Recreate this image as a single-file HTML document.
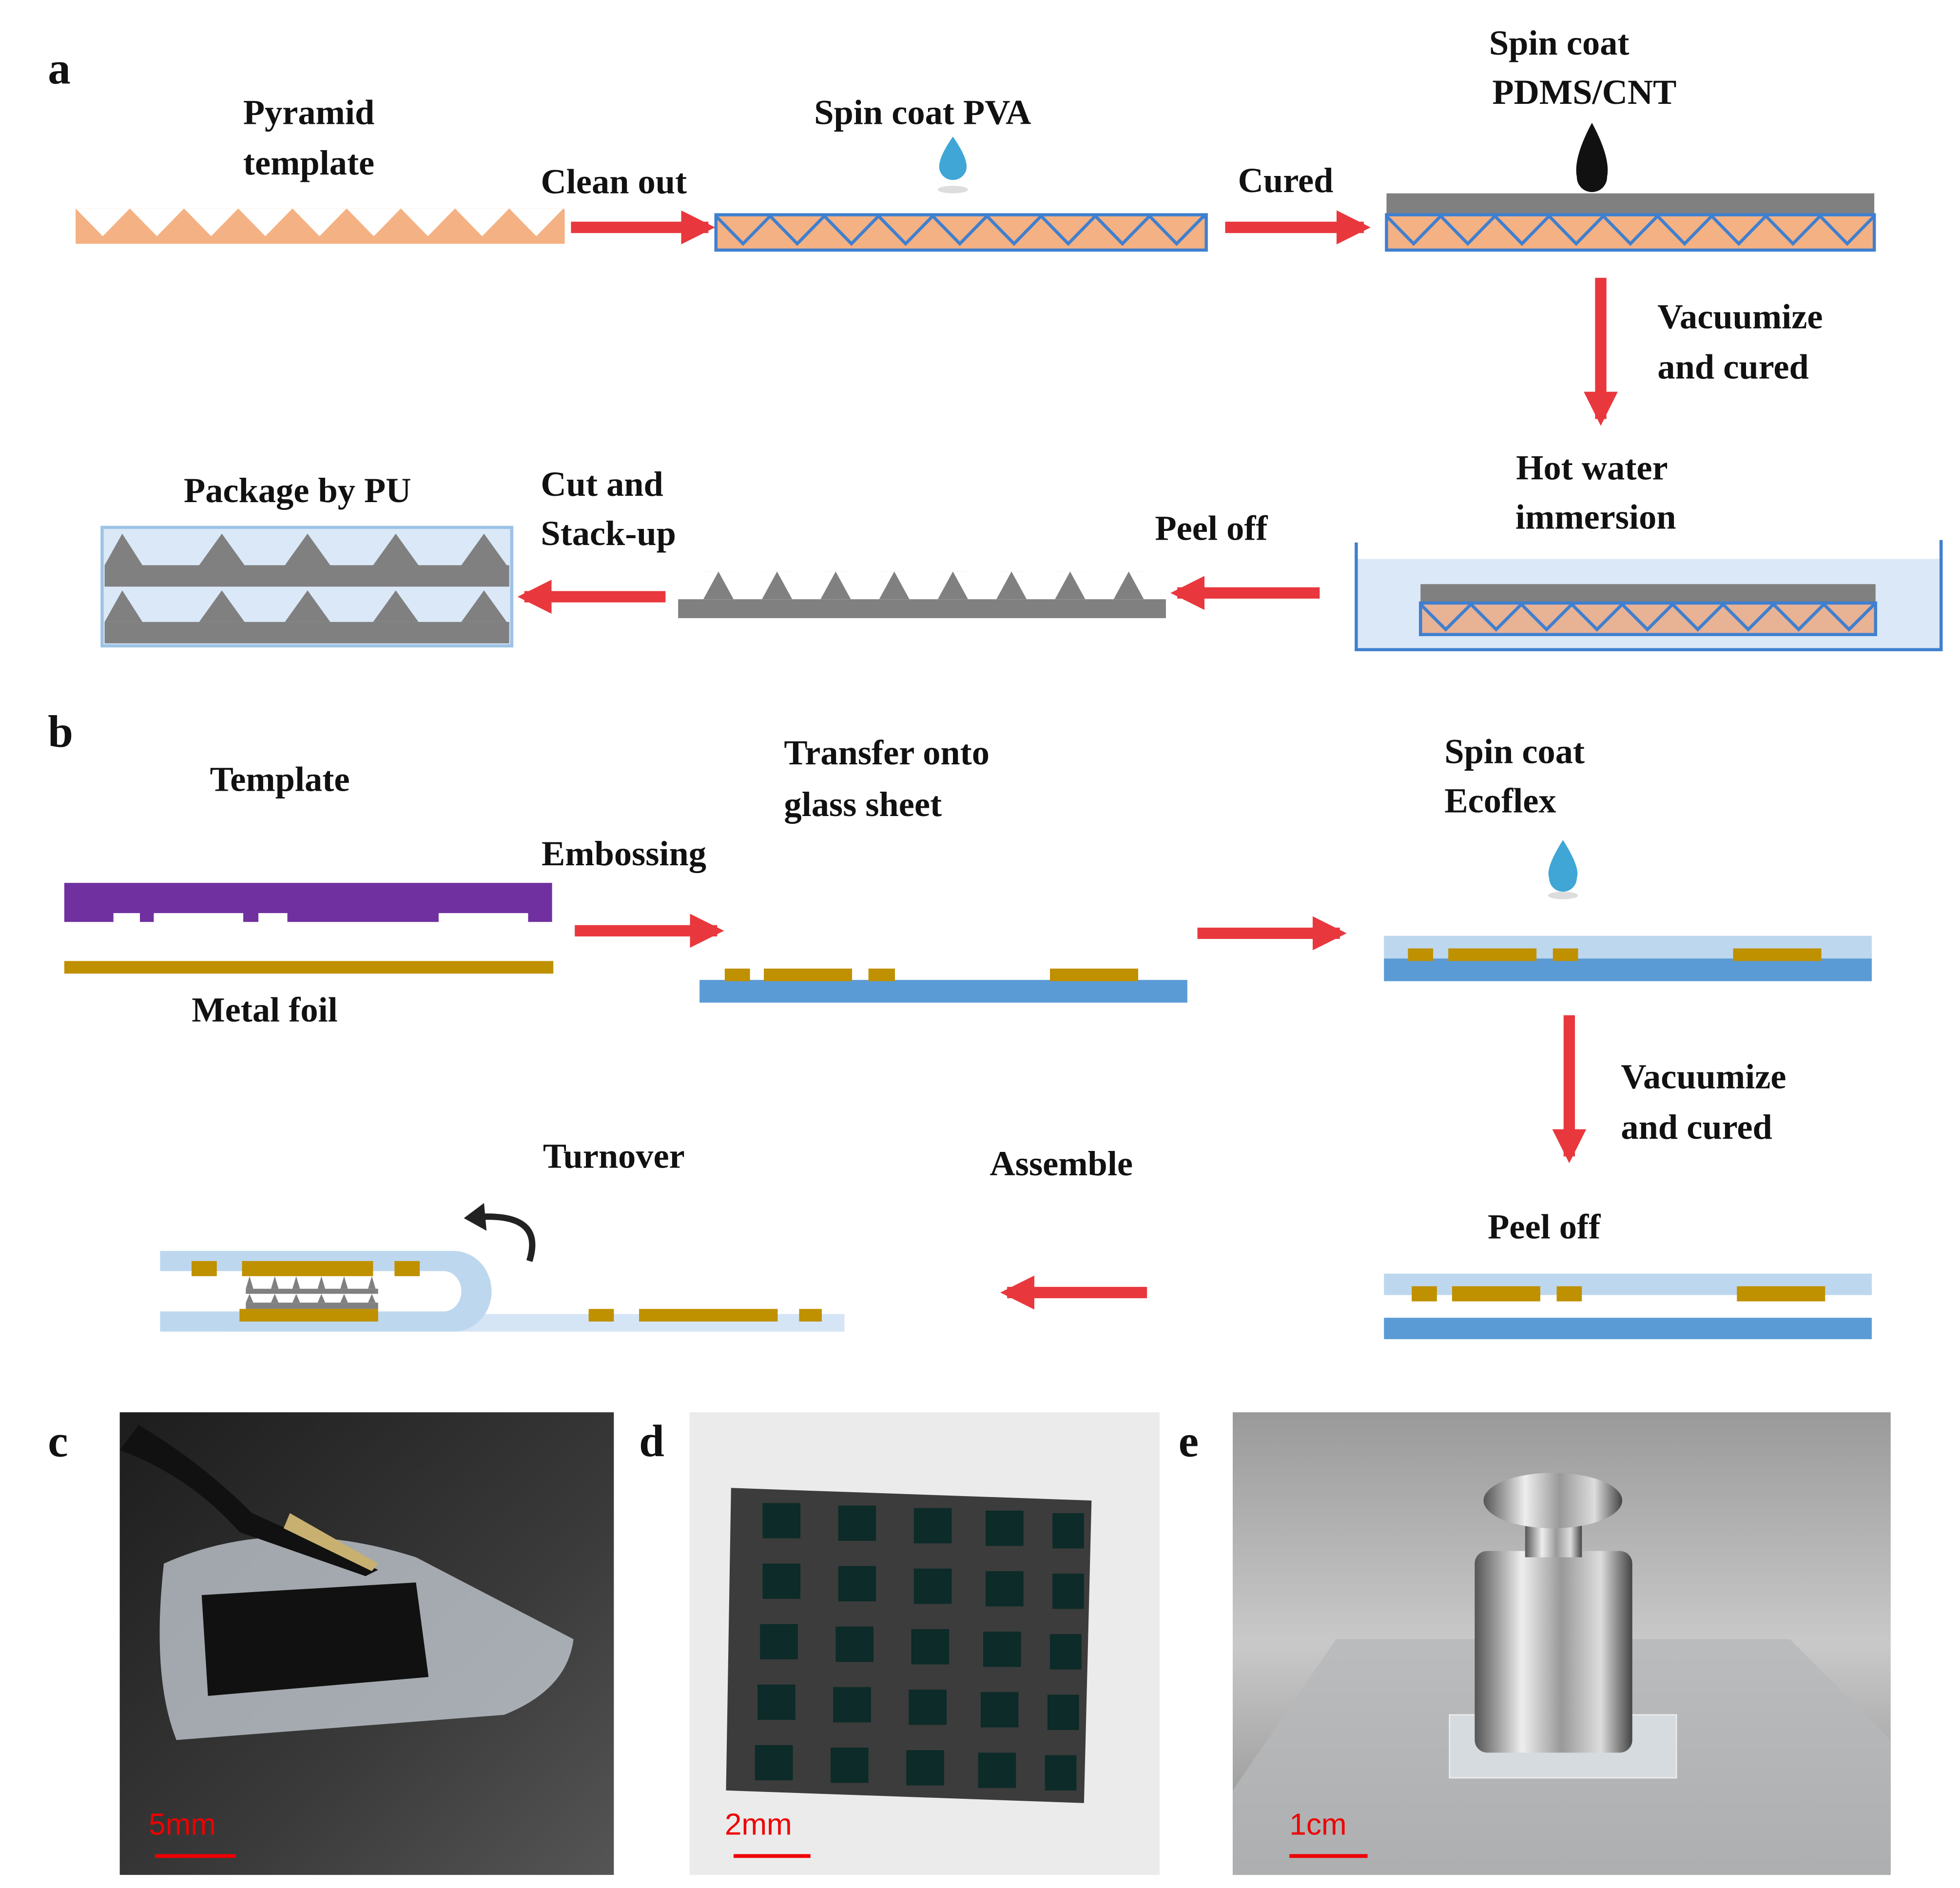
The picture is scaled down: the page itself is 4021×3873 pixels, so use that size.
<!DOCTYPE html>
<html><head><meta charset="utf-8"><style>
html,body{margin:0;padding:0;background:#fff}
svg{display:block}
text{font-family:"Liberation Serif",serif;font-weight:bold;font-size:28px;fill:#111}
.lab{font-size:36px}
.sb{font-family:"Liberation Sans",sans-serif;font-weight:normal;fill:#e00;font-size:24px}
</style></head><body>
<svg width="4021" height="3873" viewBox="0 0 1555 1497" xmlns="http://www.w3.org/2000/svg">
<defs>
<marker id="ah" viewBox="0 0 10 10" refX="8" refY="5" markerWidth="3" markerHeight="3" orient="auto"><path d="M0,0L10,5L0,10z" fill="#e8383d"/></marker>
<pattern id="notch" x="60" y="165" width="43" height="28" patternUnits="userSpaceOnUse"><polygon points="0,0 43,0 21.5,22" fill="#fff"/></pattern>
<pattern id="zz1" x="568" y="170" width="43" height="28" patternUnits="userSpaceOnUse"><polyline points="0,1 21.5,23 43,1" fill="none" stroke="#3f7fcf" stroke-width="2.5"/></pattern>
<pattern id="zz2" x="1100" y="170" width="43" height="28" patternUnits="userSpaceOnUse"><polyline points="0,1 21.5,23 43,1" fill="none" stroke="#3f7fcf" stroke-width="2.5"/></pattern>
<pattern id="zz3" x="1127" y="478" width="40" height="25" patternUnits="userSpaceOnUse"><polyline points="0,1 20,21 40,1" fill="none" stroke="#3f7fcf" stroke-width="2.5"/></pattern>
<pattern id="tri1" x="548" y="453" width="46.5" height="22" patternUnits="userSpaceOnUse"><polygon points="10,22 22,0 34,22" fill="#808080"/></pattern>
<linearGradient id="gc" x1="0" y1="0" x2="1" y2="1"><stop offset="0" stop-color="#1d1d1d"/><stop offset="0.6" stop-color="#3a3a3a"/><stop offset="1" stop-color="#555"/></linearGradient>
<linearGradient id="ge" x1="0" y1="0" x2="0" y2="1"><stop offset="0" stop-color="#9a9a9a"/><stop offset="0.5" stop-color="#c9c9c9"/><stop offset="1" stop-color="#8a8a8a"/></linearGradient>
<linearGradient id="gw" x1="0" y1="0" x2="1" y2="0"><stop offset="0" stop-color="#555"/><stop offset="0.3" stop-color="#eee"/><stop offset="0.55" stop-color="#999"/><stop offset="0.8" stop-color="#ddd"/><stop offset="1" stop-color="#444"/></linearGradient>
</defs>

<text class="lab" x="38" y="66">a</text>
<text x="245" y="98" text-anchor="middle">Pyramid</text>
<text x="245" y="138" text-anchor="middle">template</text>
<rect x="60" y="165" width="388" height="28" fill="#f4b183"/>
<rect x="60" y="165" width="388" height="28" fill="url(#notch)"/>
<line x1="453" y1="180" x2="562" y2="180" stroke="#e8383d" stroke-width="9" marker-end="url(#ah)"/>
<text x="487" y="153" text-anchor="middle">Clean out</text>

<text x="732" y="98" text-anchor="middle">Spin coat PVA</text>
<path d="M756,108 Q742,128 746,136 A11,11 0 0 0 766,136 Q770,128 756,108z" fill="#3fa6d6"/>
<ellipse cx="756" cy="150" rx="12" ry="3" fill="#ddd"/>
<rect x="568" y="170" width="389" height="28" fill="#f4b183" stroke="#3f7fcf" stroke-width="2.5"/>
<rect x="568" y="170" width="389" height="28" fill="url(#zz1)"/>
<line x1="972" y1="180" x2="1082" y2="180" stroke="#e8383d" stroke-width="9" marker-end="url(#ah)"/>
<text x="1020" y="152" text-anchor="middle">Cured</text>

<text x="1237" y="43" text-anchor="middle">Spin coat</text>
<text x="1257" y="82" text-anchor="middle">PDMS/CNT</text>
<path d="M1263,97 Q1248,125 1251,140 A12,12 0 0 0 1275,140 Q1278,125 1263,97z" fill="#111"/>
<rect x="1100" y="153" width="387" height="17" fill="#808080"/>
<rect x="1100" y="170" width="387" height="28" fill="#f4b183" stroke="#3f7fcf" stroke-width="2.5"/>
<rect x="1100" y="170" width="387" height="28" fill="url(#zz2)"/>
<line x1="1270" y1="220" x2="1270" y2="332" stroke="#e8383d" stroke-width="9" marker-end="url(#ah)"/>
<text x="1315" y="260">Vacuumize</text>
<text x="1315" y="300">and cured</text>

<text x="1263" y="380" text-anchor="middle">Hot water</text>
<text x="1266" y="419" text-anchor="middle">immersion</text>
<rect x="1076" y="443" width="464" height="72" fill="#dae8f7"/>
<polyline points="1076,430 1076,515 1540,515 1540,428" fill="none" stroke="#3f7fcf" stroke-width="2.5"/>
<rect x="1127" y="463" width="361" height="15" fill="#808080"/>
<rect x="1127" y="478" width="361" height="25" fill="#e8b295" stroke="#3f7fcf" stroke-width="2.5"/>
<rect x="1127" y="478" width="361" height="25" fill="url(#zz3)"/>
<line x1="1047" y1="470" x2="934" y2="470" stroke="#e8383d" stroke-width="9" marker-end="url(#ah)"/>
<text x="961" y="428" text-anchor="middle">Peel off</text>

<rect x="538" y="475" width="387" height="15" fill="#808080"/>
<rect x="548" y="453" width="372" height="22" fill="url(#tri1)"/>
<line x1="528" y1="473" x2="416" y2="473" stroke="#e8383d" stroke-width="9" marker-end="url(#ah)"/>
<text x="429" y="393">Cut and</text>
<text x="429" y="432">Stack-up</text>

<text x="236" y="398" text-anchor="middle">Package by PU</text>
<rect x="81" y="418" width="325" height="94" fill="#dae8f7" stroke="#9dc3e6" stroke-width="2.5"/>
<rect x="83" y="448" width="321" height="17" fill="#808080"/>
<rect x="83" y="493" width="321" height="17" fill="#808080"/>
<g fill="#808080">
<polygon points="83,448 97,423 113,448"/><polygon points="158,448 176,423 194,448"/><polygon points="226,448 244,423 262,448"/><polygon points="296,448 314,423 332,448"/><polygon points="366,448 384,423 402,448"/>
<polygon points="83,493 97,468 113,493"/><polygon points="158,493 176,468 194,493"/><polygon points="226,493 244,468 262,493"/><polygon points="296,493 314,468 332,493"/><polygon points="366,493 384,468 402,493"/>
</g>

<text class="lab" x="38" y="592">b</text>
<text x="222" y="627" text-anchor="middle">Template</text>
<path d="M51,700H438V731H419V724H348V731H228V724H205V731H193V724H122V731H111V724H90V731H51z" fill="#7030a0"/>
<rect x="51" y="762" width="388" height="10" fill="#bf9000"/>
<text x="210" y="810" text-anchor="middle">Metal foil</text>
<line x1="456" y1="738" x2="569" y2="738" stroke="#e8383d" stroke-width="9" marker-end="url(#ah)"/>
<text x="495" y="686" text-anchor="middle">Embossing</text>

<text x="622" y="606">Transfer onto</text>
<text x="622" y="647">glass sheet</text>
<rect x="555" y="777" width="387" height="18" fill="#5b9bd5"/>
<g fill="#bf9000"><rect x="575" y="768" width="20" height="10"/><rect x="606" y="768" width="70" height="10"/><rect x="689" y="768" width="21" height="10"/><rect x="833" y="768" width="70" height="10"/></g>
<line x1="950" y1="740" x2="1063" y2="740" stroke="#e8383d" stroke-width="9" marker-end="url(#ah)"/>

<text x="1146" y="605">Spin coat</text>
<text x="1146" y="644">Ecoflex</text>
<path d="M1240,666 Q1226,688 1229,696 A11,11 0 0 0 1251,696 Q1254,688 1240,666z" fill="#3fa6d6"/>
<ellipse cx="1240" cy="710" rx="12" ry="3" fill="#ddd"/>
<rect x="1098" y="742" width="387" height="18" fill="#bdd7ee"/>
<rect x="1098" y="760" width="387" height="18" fill="#5b9bd5"/>
<g fill="#bf9000"><rect x="1117" y="752" width="20" height="10"/><rect x="1149" y="752" width="70" height="10"/><rect x="1232" y="752" width="20" height="10"/><rect x="1375" y="752" width="70" height="10"/></g>
<line x1="1245" y1="805" x2="1245" y2="917" stroke="#e8383d" stroke-width="9" marker-end="url(#ah)"/>
<text x="1286" y="863">Vacuumize</text>
<text x="1286" y="903">and cured</text>

<text x="1225" y="982" text-anchor="middle">Peel off</text>
<rect x="1098" y="1010" width="387" height="17" fill="#bdd7ee"/>
<g fill="#bf9000"><rect x="1120" y="1020" width="20" height="12"/><rect x="1152" y="1020" width="70" height="12"/><rect x="1235" y="1020" width="20" height="12"/><rect x="1378" y="1020" width="70" height="12"/></g>
<rect x="1098" y="1045" width="387" height="17" fill="#5b9bd5"/>
<line x1="910" y1="1025" x2="799" y2="1025" stroke="#e8383d" stroke-width="9" marker-end="url(#ah)"/>
<text x="842" y="932" text-anchor="middle">Assemble</text>
<text x="487" y="926" text-anchor="middle">Turnover</text>

<rect x="180" y="1042" width="490" height="14" fill="#d6e5f5"/>
<path d="M127,992H360A30,32 0 0 1 360,1056H127V1040H352A14,16 0 0 0 352,1008H127z" fill="#bdd7ee"/>
<g fill="#bf9000"><rect x="152" y="1000" width="20" height="12"/><rect x="192" y="1000" width="104" height="12"/><rect x="313" y="1000" width="20" height="12"/><rect x="190" y="1038" width="110" height="10"/>
<rect x="467" y="1038" width="20" height="10"/><rect x="507" y="1038" width="110" height="10"/><rect x="634" y="1038" width="18" height="10"/></g>
<g fill="#808080"><rect x="195" y="1022" width="105" height="4"/><rect x="195" y="1033" width="105" height="5"/>
<polygon points="195,1022 198,1012 201,1022"/><polygon points="215,1022 218,1012 221,1022"/><polygon points="232,1022 235,1012 238,1022"/><polygon points="252,1022 255,1012 258,1022"/><polygon points="270,1022 273,1012 276,1022"/><polygon points="292,1022 295,1012 298,1022"/>
<polygon points="195,1033 198,1026 201,1033"/><polygon points="215,1033 218,1026 221,1033"/><polygon points="232,1033 235,1026 238,1033"/><polygon points="252,1033 255,1026 258,1033"/><polygon points="270,1033 273,1026 276,1033"/><polygon points="292,1033 295,1026 298,1033"/></g>
<path d="M380,965 Q432,962 420,1000" fill="none" stroke="#222" stroke-width="5"/>
<polygon points="368,966 384,954 386,976" fill="#222"/>

<text class="lab" x="38" y="1155">c</text>
<text class="lab" x="507" y="1155">d</text>
<text class="lab" x="935" y="1155">e</text>

<rect x="95" y="1120" width="392" height="367" fill="url(#gc)"/>
<path d="M130,1240 Q220,1200 330,1235 L455,1300 Q450,1340 400,1360 L140,1380 Q120,1330 130,1240z" fill="#c9d2d8" opacity="0.75"/>
<path d="M160,1265 L330,1255 L340,1330 L165,1345z" fill="#111"/>
<path d="M110,1130 Q160,1160 200,1200 L300,1245 L290,1250 L190,1215 Q150,1170 95,1150z" fill="#111"/>
<path d="M230,1200 L300,1240 L295,1246 L225,1212z" fill="#c8b070"/>
<text class="sb" x="118" y="1455">5mm</text>
<line x1="123" y1="1472" x2="187" y2="1472" stroke="#e00" stroke-width="3"/>

<rect x="547" y="1120" width="373" height="367" fill="#ebebeb"/>
<polygon points="580,1180 866,1190 860,1430 576,1420" fill="#3c3c3c"/>
<g fill="#0d2b28">
<rect x="605" y="1192" width="30" height="28"/><rect x="665" y="1194" width="30" height="28"/><rect x="725" y="1196" width="30" height="28"/><rect x="782" y="1198" width="30" height="28"/><rect x="835" y="1200" width="25" height="28"/>
<rect x="605" y="1240" width="30" height="28"/><rect x="665" y="1242" width="30" height="28"/><rect x="725" y="1244" width="30" height="28"/><rect x="782" y="1246" width="30" height="28"/><rect x="835" y="1248" width="25" height="28"/>
<rect x="603" y="1288" width="30" height="28"/><rect x="663" y="1290" width="30" height="28"/><rect x="723" y="1292" width="30" height="28"/><rect x="780" y="1294" width="30" height="28"/><rect x="833" y="1296" width="25" height="28"/>
<rect x="601" y="1336" width="30" height="28"/><rect x="661" y="1338" width="30" height="28"/><rect x="721" y="1340" width="30" height="28"/><rect x="778" y="1342" width="30" height="28"/><rect x="831" y="1344" width="25" height="28"/>
<rect x="599" y="1384" width="30" height="28"/><rect x="659" y="1386" width="30" height="28"/><rect x="719" y="1388" width="30" height="28"/><rect x="776" y="1390" width="30" height="28"/><rect x="829" y="1392" width="25" height="28"/>
</g>
<text class="sb" x="575" y="1455">2mm</text>
<line x1="582" y1="1472" x2="643" y2="1472" stroke="#e00" stroke-width="3"/>

<rect x="978" y="1120" width="522" height="367" fill="url(#ge)"/>
<polygon points="978,1420 1060,1300 1420,1300 1500,1380 1500,1487 978,1487" fill="#b5b8ba" opacity="0.8"/>
<rect x="1150" y="1360" width="180" height="50" fill="#d6dbdf" stroke="#eee"/>
<rect x="1170" y="1230" width="125" height="160" rx="10" fill="url(#gw)"/>
<rect x="1210" y="1200" width="45" height="35" fill="url(#gw)"/>
<ellipse cx="1232" cy="1190" rx="55" ry="22" fill="url(#gw)"/>
<text class="sb" x="1023" y="1455">1cm</text>
<line x1="1023" y1="1472" x2="1085" y2="1472" stroke="#e00" stroke-width="3"/>
</svg>
</body></html>
